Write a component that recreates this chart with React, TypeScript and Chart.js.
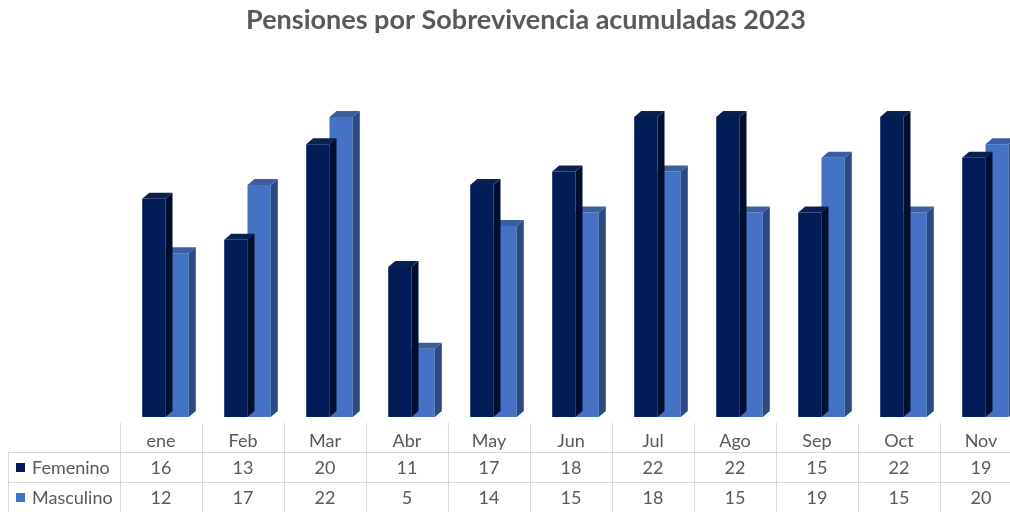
import React, { useEffect, useRef } from "react";
import { Chart, registerables } from "chart.js";

Chart.register(...registerables);

const categories = ["ene", "Feb", "Mar", "Abr", "May", "Jun", "Jul", "Ago", "Sep", "Oct", "Nov"];
const femenino = [16, 13, 20, 11, 17, 18, 22, 22, 15, 22, 19];
const masculino = [12, 17, 22, 5, 14, 15, 18, 15, 19, 15, 20];
const seriesNames = ["Femenino", "Masculino"];
const titleText = "Pensiones por Sobrevivencia acumuladas 2023";

const frontColors = ["#001D58", "#4472C4"];
const sideColors = ["#000F30", "#2C4A82"];
const topColors = ["#0A2052", "#3A5E9F"];

const DX = 7;
const DY = 6;
const TABLE_SHIFT = 4.5;
const GRID = "#D9D9D9";
const TEXT = "#595959";

const threeD = {
  id: "threeD",
  afterDatasetDraw(chart: any, args: any) {
    const meta = chart.getDatasetMeta(args.index);
    const ctx = chart.ctx;
    ctx.save();
    meta.data.forEach((bar: any) => {
      const { x, y, base, width } = bar.getProps(["x", "y", "base", "width"], true);
      const l = x - width / 2;
      const r = x + width / 2;
      ctx.fillStyle = sideColors[args.index];
      ctx.beginPath();
      ctx.moveTo(r, y);
      ctx.lineTo(r + DX, y - DY);
      ctx.lineTo(r + DX, base - DY);
      ctx.lineTo(r, base);
      ctx.closePath();
      ctx.fill();
      ctx.fillStyle = topColors[args.index];
      ctx.beginPath();
      ctx.moveTo(l, y);
      ctx.lineTo(l + DX, y - DY);
      ctx.lineTo(r + DX, y - DY);
      ctx.lineTo(r, y);
      ctx.closePath();
      ctx.fill();
    });
    ctx.restore();
  },
};

const dataTable = {
  id: "dataTable",
  afterDraw(chart: any) {
    const ctx = chart.ctx;
    const xs = chart.scales.x;
    const W = chart.width;
    const colW = xs.getPixelForValue(1) - xs.getPixelForValue(0);
    const headerTop = 423;
    const row1 = 452.5;
    const row2 = 482.5;
    const bottom = 512;
    ctx.save();
    ctx.strokeStyle = GRID;
    ctx.lineWidth = 1;
    [row1, row2].forEach((yy) => {
      ctx.beginPath();
      ctx.moveTo(8, yy);
      ctx.lineTo(W, yy);
      ctx.stroke();
    });
    ctx.beginPath();
    ctx.moveTo(8.5, row1);
    ctx.lineTo(8.5, bottom);
    ctx.stroke();
    for (let i = 0; i <= categories.length; i++) {
      const c = xs.getPixelForValue(Math.min(i, categories.length - 1)) - TABLE_SHIFT;
      const xl = Math.round(i < categories.length ? c - colW / 2 : c + colW / 2) + 0.5;
      ctx.beginPath();
      ctx.moveTo(xl, headerTop);
      ctx.lineTo(xl, bottom);
      ctx.stroke();
    }
    ctx.fillStyle = TEXT;
    ctx.font = "18px Lato";
    ctx.textAlign = "center";
    ctx.textBaseline = "middle";
    const rows = [femenino, masculino];
    categories.forEach((lab, i) => {
      const c = xs.getPixelForValue(i) - TABLE_SHIFT;
      ctx.fillText(lab, c, 441);
      rows.forEach((vals, r) => {
        ctx.fillText(String(vals[i]), c, r === 0 ? 468 : 498);
      });
    });
    ctx.textAlign = "left";
    seriesNames.forEach((name, r) => {
      const yc = r === 0 ? 468 : 498;
      ctx.fillStyle = frontColors[r];
      ctx.fillRect(16, yc - 5, 9, 9);
      ctx.fillStyle = TEXT;
      ctx.fillText(name, 32, yc);
    });
    ctx.restore();
  },
};

export default function App() {
  const ref = useRef<HTMLCanvasElement | null>(null);
  useEffect(() => {
    if (!ref.current) return;
    const chart = new Chart(ref.current, {
      type: "bar",
      data: {
        labels: categories,
        datasets: [
          { label: seriesNames[0], data: femenino, backgroundColor: frontColors[0], borderWidth: 0 },
          { label: seriesNames[1], data: masculino, backgroundColor: frontColors[1], borderWidth: 0 },
        ],
      },
      options: {
        responsive: false,
        animation: false,
        layout: { padding: { left: 0, right: 0, top: 0, bottom: 95 } },
        datasets: { bar: { categoryPercentage: 0.568, barPercentage: 1 } },
        scales: {
          x: { display: false },
          y: {
            position: "left",
            min: 0,
            max: 25,
            ticks: { display: false },
            grid: { display: false },
            border: { display: false },
            afterFit: (s: any) => { s.width = 124.5; },
          },
          y2: {
            position: "right",
            min: 0,
            max: 25,
            ticks: { display: false },
            grid: { display: false },
            border: { display: false },
            afterFit: (s: any) => { s.width = 25.5; },
          },
        },
        plugins: {
          legend: { display: false },
          tooltip: { enabled: false },
          title: {
            display: true,
            text: titleText,
            color: TEXT,
            font: { family: "Lato", size: 27, weight: "bold" },
            padding: { top: 4, bottom: 39.6 },
          },
        },
      },
      plugins: [threeD, dataTable],
    });
    return () => chart.destroy();
  }, []);
  return (
    <div style={{ position: "fixed", left: 0, top: 0, width: 1010, height: 512, overflow: "hidden", background: "#fff" }}>
      <canvas ref={ref} width={1052} height={512} style={{ display: "block" }} />
    </div>
  );
}
